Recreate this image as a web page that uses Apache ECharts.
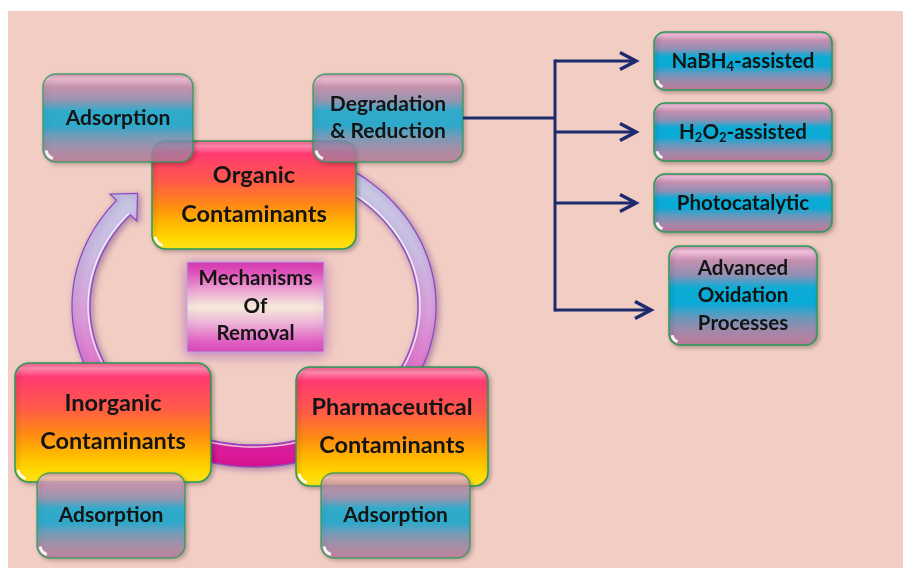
<!DOCTYPE html>
<html>
<head>
<meta charset="utf-8">
<script src="https://cdn.jsdelivr.net/npm/echarts@6/dist/echarts.min.js"></script>
<style>
  html, body { margin: 0; padding: 0; background: #fff; }
  #main { width: 903px; height: 568px; }
</style>
</head>
<body>
<div id="main"></div>
<script>
// ---- labels ----
var contaminants = ['Organic\nContaminants', 'Inorganic\nContaminants', 'Pharmaceutical\nContaminants'];
var removalSteps = ['Adsorption', 'Degradation\n& Reduction', 'Adsorption', 'Adsorption'];
var degradationRoutes = ['NaBH_4-assisted', 'H_2O_2-assisted', 'Photocatalytic', 'Advanced\nOxidation\nProcesses'];
var centreLabel = ['Mechanisms\nOf\nRemoval'];

// ---- layout (canvas px): [x, y, w, h] ----
var contaminantBoxes = [[152, 141, 204, 108], [15, 363, 196, 119], [296, 367, 192, 119]];
var stepBoxes = [[43, 74, 150, 88], [313, 74, 150, 88], [37, 473, 148, 85], [321, 473, 149, 85]];
var routeBoxes = [[654, 32, 178, 58], [654, 103, 178, 58], [654, 174, 178, 58], [669, 246, 148, 99]];
var routeArrowY = [61, 132, 203, 310];
var centreBox = [[187, 262, 137, 90]];
var trunkX = 555;
// cycle arrow: centre, outer radii, inner radii, start/end angle (deg)
var cycle = [[254, 306, 182, 161, 164, 139, -62, 221]];

var FONT = 'Lato, "Open Sans", sans-serif';
var TEXT = '#141414';
var LG = echarts.graphic.LinearGradient;

function richLabel(s) {
  return s.replace(/_(\d)/g, '{s|$1}');
}

function blueFill() {
  return new LG(0, 0, 0, 1, [
    {offset: 0, color: '#d48ab0'},
    {offset: 0.06, color: '#f6c3df'},
    {offset: 0.15, color: '#c68fb0'},
    {offset: 0.3, color: '#8f90b4'},
    {offset: 0.42, color: '#0eacd6'},
    {offset: 0.58, color: '#08aad6'},
    {offset: 0.72, color: '#6a98bc'},
    {offset: 0.86, color: '#a487a8'},
    {offset: 1, color: '#c07a9a'}
  ]);
}
function warmFill() {
  return new LG(0, 0, 0, 1, [
    {offset: 0, color: '#ff5a88'},
    {offset: 0.05, color: '#ff8ab0'},
    {offset: 0.12, color: '#ff3a72'},
    {offset: 0.38, color: '#ff5a48'},
    {offset: 0.6, color: '#ff8c12'},
    {offset: 0.76, color: '#ffb800'},
    {offset: 0.9, color: '#ffd800'},
    {offset: 1, color: '#ffe41e'}
  ]);
}
function centreFill() {
  return new LG(0, 0, 0, 1, [
    {offset: 0, color: '#d838b0'},
    {offset: 0.12, color: '#e052bb'},
    {offset: 0.32, color: '#eca6d4'},
    {offset: 0.5, color: '#f6ecda'},
    {offset: 0.68, color: '#eeb2d8'},
    {offset: 0.88, color: '#e062c4'},
    {offset: 1, color: '#d848b8'}
  ]);
}

function boxRender(labels, opts) {
  return function (params, api) {
    var i = api.value(4);
    var p = api.coord([api.value(0), api.value(1)]);
    var s = api.size([api.value(2), api.value(3)]);
    var kids = [{
      type: 'rect',
      shape: {x: p[0], y: p[1], width: s[0], height: s[1], r: opts.r},
      style: {
        fill: opts.fill(), stroke: opts.stroke, lineWidth: opts.lw, opacity: opts.opacity || 1,
        shadowBlur: opts.shadowBlur || 4, shadowColor: opts.shadowColor || 'rgba(0,0,0,0.25)',
        shadowOffsetX: opts.shadowX === undefined ? 2 : opts.shadowX,
        shadowOffsetY: opts.shadowY === undefined ? 2 : opts.shadowY
      }
    }];
    if (opts.gloss) {
      kids.push({
        type: 'arc',
        shape: {cx: p[0] + opts.r, cy: p[1] + s[1] - opts.r, r: opts.r - 3,
                startAngle: Math.PI * 0.6, endAngle: Math.PI * 0.95},
        style: {stroke: 'rgba(255,255,255,0.9)', lineWidth: 3, fill: null}
      });
    }
    kids.push({
      type: 'text',
      x: p[0] + s[0] / 2 + (opts.dx || 0),
      y: p[1] + s[1] / 2 + (opts.dy || 0),
      style: {
        text: richLabel(labels[i]), fill: TEXT,
        fontFamily: FONT, fontWeight: 'bold', fontSize: opts.fs, lineHeight: opts.lh,
        align: 'center', verticalAlign: 'middle',
        rich: {s: {fontFamily: FONT, fontWeight: 'bold', fontSize: 13, lineHeight: 13,
                   verticalAlign: 'bottom', fill: TEXT, padding: [0, 0, 1, 0]}}
      }
    });
    return {type: 'group', children: kids};
  };
}

function cycleRender(params, api) {
  var cx = api.value(0), cy = api.value(1);
  var orx = api.value(2), ory = api.value(3), irx = api.value(4), iry = api.value(5);
  var a0 = api.value(6) * Math.PI / 180, a1 = api.value(7) * Math.PI / 180;
  var n = 140, outer = [], inner = [], hi = [];
  for (var k = 0; k <= n; k++) {
    var a = a0 + (a1 - a0) * k / n;
    outer.push(api.coord([cx + orx * Math.cos(a), cy + ory * Math.sin(a)]));
    inner.push(api.coord([cx + irx * Math.cos(a), cy + iry * Math.sin(a)]));
    hi.push(api.coord([cx + (irx + 2) * Math.cos(a), cy + (iry + 2) * Math.sin(a)]));
  }
  // arrow head at end angle
  var mrx = (orx + irx) / 2, mry = (ory + iry) / 2;
  var mx = cx + mrx * Math.cos(a1), my = cy + mry * Math.sin(a1);
  var tx = -mrx * Math.sin(a1), ty = mry * Math.cos(a1);
  var tl = Math.sqrt(tx * tx + ty * ty); tx /= tl; ty /= tl;
  var nx = -ty, ny = tx; // perpendicular
  var half = 19, len = 20;
  var w1 = api.coord([mx - nx * half, my - ny * half]);
  var tip = api.coord([mx + tx * len, my + ty * len]);
  var w2 = api.coord([mx + nx * half, my + ny * half]);
  // choose which wing sits on the outer side
  var oEnd = outer[n];
  var d1 = Math.hypot(w1[0] - oEnd[0], w1[1] - oEnd[1]);
  var d2 = Math.hypot(w2[0] - oEnd[0], w2[1] - oEnd[1]);
  var wo = d1 < d2 ? w1 : w2, wi = d1 < d2 ? w2 : w1;
  var pts = outer.concat([wo, tip, wi]).concat(inner.slice().reverse());
  return {
    type: 'group',
    children: [{
      type: 'polygon',
      shape: {points: pts},
      style: {
        fill: new LG(0, 0, 0, 1, [
          {offset: 0, color: '#c6cce6'},
          {offset: 0.3, color: '#cbbbe2'},
          {offset: 0.5, color: '#da9cdb'},
          {offset: 0.7, color: '#e06ec8'},
          {offset: 0.88, color: '#e02aa8'},
          {offset: 1, color: '#d81090'}
        ]),
        stroke: '#8a4cc4', lineWidth: 1.3,
        shadowBlur: 6, shadowColor: 'rgba(90,40,120,0.45)', shadowOffsetX: 2, shadowOffsetY: 2
      }
    }, {
      type: 'polyline',
      shape: {points: hi},
      style: {stroke: 'rgba(255,255,255,0.75)', lineWidth: 1.5, fill: null}
    }]
  };
}

function connectorRender(params, api) {
  var i = api.value(4);
  var y = routeArrowY[i];
  var tipX = api.value(0) - 18;
  var kids = [];
  var a = api.coord([trunkX, y]), b = api.coord([tipX, y]);
  kids.push({type: 'line', shape: {x1: a[0], y1: a[1], x2: b[0], y2: b[1]},
             style: {stroke: '#1c2a6e', lineWidth: 3}});
  kids.push({type: 'polyline', shape: {points: [
      api.coord([tipX - 16, y - 8.5]), b, api.coord([tipX - 16, y + 8.5])]},
    style: {stroke: '#1c2a6e', lineWidth: 3.5, fill: null, lineJoin: 'miter'}});
  if (i === 0) {
    var src = stepBoxes[1];
    var sy = src[1] + src[3] / 2;
    var s0 = api.coord([src[0] + src[2], sy]), s1 = api.coord([trunkX, sy]);
    kids.push({type: 'line', shape: {x1: s0[0], y1: s0[1], x2: s1[0], y2: s1[1]},
               style: {stroke: '#1c2a6e', lineWidth: 3}});
    var t0 = api.coord([trunkX, Math.min.apply(null, routeArrowY)]);
    var t1 = api.coord([trunkX, Math.max.apply(null, routeArrowY)]);
    kids.push({type: 'line', shape: {x1: t0[0], y1: t0[1] - 1.5, x2: t1[0], y2: t1[1] + 1.5},
               style: {stroke: '#1c2a6e', lineWidth: 3}});
  }
  return {type: 'group', children: kids};
}

function withIndex(boxes) {
  return boxes.map(function (b, i) { return b.concat([i]); });
}

var chart = echarts.init(document.getElementById('main'), null, {renderer: 'canvas'});
chart.setOption({
  animation: false,
  backgroundColor: '#ffffff',
  graphic: [{
    type: 'rect', left: 8, top: 11, z: -10,
    shape: {width: 895, height: 557},
    style: {fill: '#f2cdc4'}
  }],
  grid: {left: 0, right: 0, top: 0, bottom: 0},
  xAxis: {type: 'value', min: 0, max: 903, show: false},
  yAxis: {type: 'value', min: 0, max: 568, inverse: true, show: false},
  series: [
    {type: 'custom', name: 'cycle', silent: true, clip: false,
     encode: {x: 0, y: 1}, data: cycle, renderItem: cycleRender},
    {type: 'custom', name: 'centre', silent: true, clip: false,
     encode: {x: 0, y: 1}, data: withIndex(centreBox),
     renderItem: boxRender(centreLabel, {r: 0, fill: centreFill, stroke: '#b8a8e8', lw: 1,
       fs: 20.5, lh: 27.5, dy: -1, shadowBlur: 12, shadowColor: 'rgba(150,60,170,0.6)', shadowX: 0, shadowY: 2})},
    {type: 'custom', name: 'contaminants', silent: true, clip: false,
     encode: {x: 0, y: 1}, data: withIndex(contaminantBoxes),
     renderItem: boxRender(contaminants, {r: 14, fill: warmFill, stroke: '#2a9a5a', lw: 1.5,
       fs: 23.5, lh: 38.5, gloss: true})},
    {type: 'custom', name: 'steps', silent: true, clip: false,
     encode: {x: 0, y: 1}, data: withIndex(stepBoxes),
     renderItem: boxRender(removalSteps, {r: 13, fill: blueFill, stroke: '#2a9a5a', lw: 1.5,
       fs: 21, lh: 27, opacity: 0.8, gloss: true})},
    {type: 'custom', name: 'routes', silent: true, clip: false,
     encode: {x: 0, y: 1}, data: withIndex(routeBoxes),
     renderItem: boxRender(degradationRoutes, {r: 11, fill: blueFill, stroke: '#2a9a5a', lw: 1.5,
       fs: 20.5, lh: 27.5, gloss: true})},
    {type: 'custom', name: 'connectors', silent: true, clip: false,
     encode: {x: 0, y: 1}, data: withIndex(routeBoxes), renderItem: connectorRender}
  ]
});
</script>
</body>
</html>
